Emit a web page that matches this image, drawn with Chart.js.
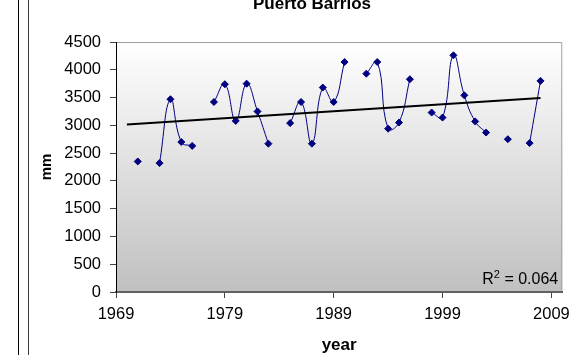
<!DOCTYPE html>
<html>
<head>
<meta charset="utf-8">
<title>Puerto Barrios</title>
<script src="https://cdn.jsdelivr.net/npm/chart.js@4/dist/chart.umd.min.js"></script>
<style>
  html, body { margin: 0; padding: 0; background: #fff; }
  #wrap { width: 577px; height: 355px; }
</style>
</head>
<body>
<div id="wrap"><canvas id="c" width="577" height="355"></canvas></div>
<script>
// Annual rainfall at Puerto Barrios (mm); null marks a year with no record
const years = [1971, 1972, 1973, 1974, 1975, 1976, 1977, 1978, 1979, 1980,
               1981, 1982, 1983, 1984, 1985, 1986, 1987, 1988, 1989, 1990,
               1991, 1992, 1993, 1994, 1995, 1996, 1997, 1998, 1999, 2000,
               2001, 2002, 2003, 2004, 2005, 2006, 2007, 2008];
const rainfall = [2350, null, 2320, 3470, 2700, 2630, null, 3420, 3740, 3080,
                  3750, 3250, 2670, null, 3040, 3420, 2670, 3680, 3420, 4140,
                  null, 3930, 4140, 2940, 3050, 3830, null, 3230, 3140, 4260,
                  3540, 3070, 2870, null, 2750, null, 2680, 3800];

// Axis ticks
const xTicks = [1969, 1979, 1989, 1999, 2009];
const yTicks = [0, 500, 1000, 1500, 2000, 2500, 3000, 3500, 4000, 4500];

// Linear trend line span and its stated fit
const trendYears = [1970, 2008];
const rSquaredText = '0.064';

// Least-squares fit over the recorded years
const pairs = years.map((y, i) => [y, rainfall[i]]).filter(p => p[1] !== null);
const n = pairs.length;
const mx = pairs.reduce((s, p) => s + p[0], 0) / n;
const my = pairs.reduce((s, p) => s + p[1], 0) / n;
const sxy = pairs.reduce((s, p) => s + (p[0] - mx) * (p[1] - my), 0);
const sxx = pairs.reduce((s, p) => s + (p[0] - mx) * (p[0] - mx), 0);
const slope = sxy / sxx;
const intercept = my - slope * mx;

const FONT = "'Liberation Sans', Arial, sans-serif";

const frame = {
  id: 'frame',
  beforeDraw(chart) {
    const { ctx, chartArea: a } = chart;
    ctx.save();
    ctx.fillStyle = '#fff';
    ctx.fillRect(0, 0, chart.width, chart.height);
    const g = ctx.createLinearGradient(0, a.top, 0, a.bottom);
    g.addColorStop(0, '#ffffff');
    g.addColorStop(1, '#c0c0c0');
    ctx.fillStyle = g;
    ctx.fillRect(a.left, a.top, a.right - a.left, a.bottom - a.top);
    ctx.strokeStyle = '#a0a0a0';
    ctx.lineWidth = 1;
    ctx.beginPath();
    ctx.moveTo(a.left, a.top + 0.5);
    ctx.lineTo(a.right - 0.5, a.top + 0.5);
    ctx.lineTo(a.right - 0.5, a.bottom);
    ctx.stroke();
    // double rule along the left edge
    ctx.strokeStyle = '#000';
    ctx.beginPath();
    ctx.moveTo(18.5, 0); ctx.lineTo(18.5, chart.height);
    ctx.stroke();
    ctx.strokeStyle = '#3a3a3a';
    ctx.beginPath();
    ctx.moveTo(28.5, 0); ctx.lineTo(28.5, chart.height);
    ctx.stroke();
    ctx.restore();
  },
  afterDraw(chart) {
    const { ctx, chartArea: a } = chart;
    ctx.save();
    ctx.fillStyle = '#000';
    // chart title
    ctx.font = 'bold 17px ' + FONT;
    ctx.textAlign = 'center';
    ctx.textBaseline = 'alphabetic';
    ctx.fillText('Puerto Barrios', 312, 9);
    // R² annotation, right-aligned inside the plot
    ctx.textAlign = 'left';
    const big = '16px ' + FONT, small = '11px ' + FONT;
    ctx.font = big;
    const tail = ' = ' + rSquaredText;
    const wTail = ctx.measureText(tail).width;
    const wR = ctx.measureText('R').width;
    ctx.font = small;
    const w2 = ctx.measureText('2').width;
    const right = a.right - 4;
    const base = a.bottom - 8;
    let x = right - wTail - w2 - wR;
    ctx.font = big;
    ctx.fillText('R', x, base);
    ctx.font = small;
    ctx.fillText('2', x + wR, base - 6);
    ctx.font = big;
    ctx.fillText(tail, x + wR + w2, base);
    ctx.restore();
  }
};

new Chart(document.getElementById('c'), {
  type: 'line',
  data: {
    datasets: [
      {
        label: 'trend',
        data: trendYears.map(y => ({ x: y, y: intercept + slope * y })),
        borderColor: '#000',
        borderWidth: 2,
        pointRadius: 0,
        tension: 0,
        order: 0
      },
      {
        label: 'rainfall',
        data: years.map((y, i) => ({ x: y, y: rainfall[i] })),
        borderColor: '#000080',
        backgroundColor: '#000080',
        borderWidth: 1,
        pointStyle: 'rectRot',
        pointRadius: 3.5,
        pointBorderWidth: 1,
        tension: 0.45,
        spanGaps: false,
        order: 1
      }
    ]
  },
  options: {
    responsive: false,
    animation: false,
    devicePixelRatio: 1,
    layout: { padding: { left: 0, right: 11, top: 42, bottom: 0 } },
    plugins: { legend: { display: false }, tooltip: { enabled: false }, title: { display: false } },
    scales: {
      x: {
        type: 'linear',
        min: 1969,
        max: 2010,
        afterBuildTicks: s => { s.ticks = xTicks.map(v => ({ value: v })); },
        afterFit: s => { s.height = 63; },
        grid: { drawOnChartArea: false, drawTicks: true, tickLength: 6, color: '#444' },
        border: { color: '#606060', width: 2 },
        ticks: {
          callback: v => String(v),
          color: '#000',
          padding: 7,
          maxRotation: 0,
          font: { family: FONT, size: 16.5 }
        },
        title: {
          display: true,
          text: 'year',
          color: '#000',
          padding: { top: 0, bottom: -1 },
          font: { family: FONT, size: 17, weight: 'bold' }
        }
      },
      y: {
        min: 0,
        max: 4500,
        afterBuildTicks: s => { s.ticks = yTicks.map(v => ({ value: v })); },
        afterFit: s => { s.width = 116; },
        grid: { drawOnChartArea: false, drawTicks: true, tickLength: 6, color: '#444' },
        border: { color: '#000', width: 1 },
        ticks: {
          callback: v => String(v),
          color: '#000',
          padding: 9,
          font: { family: FONT, size: 16.5 }
        },
        title: {
          display: true,
          text: 'mm',
          color: '#000',
          padding: { top: 38, bottom: 0 },
          font: { family: FONT, size: 15, weight: 'bold' }
        }
      }
    }
  },
  plugins: [frame]
});
</script>
</body>
</html>
